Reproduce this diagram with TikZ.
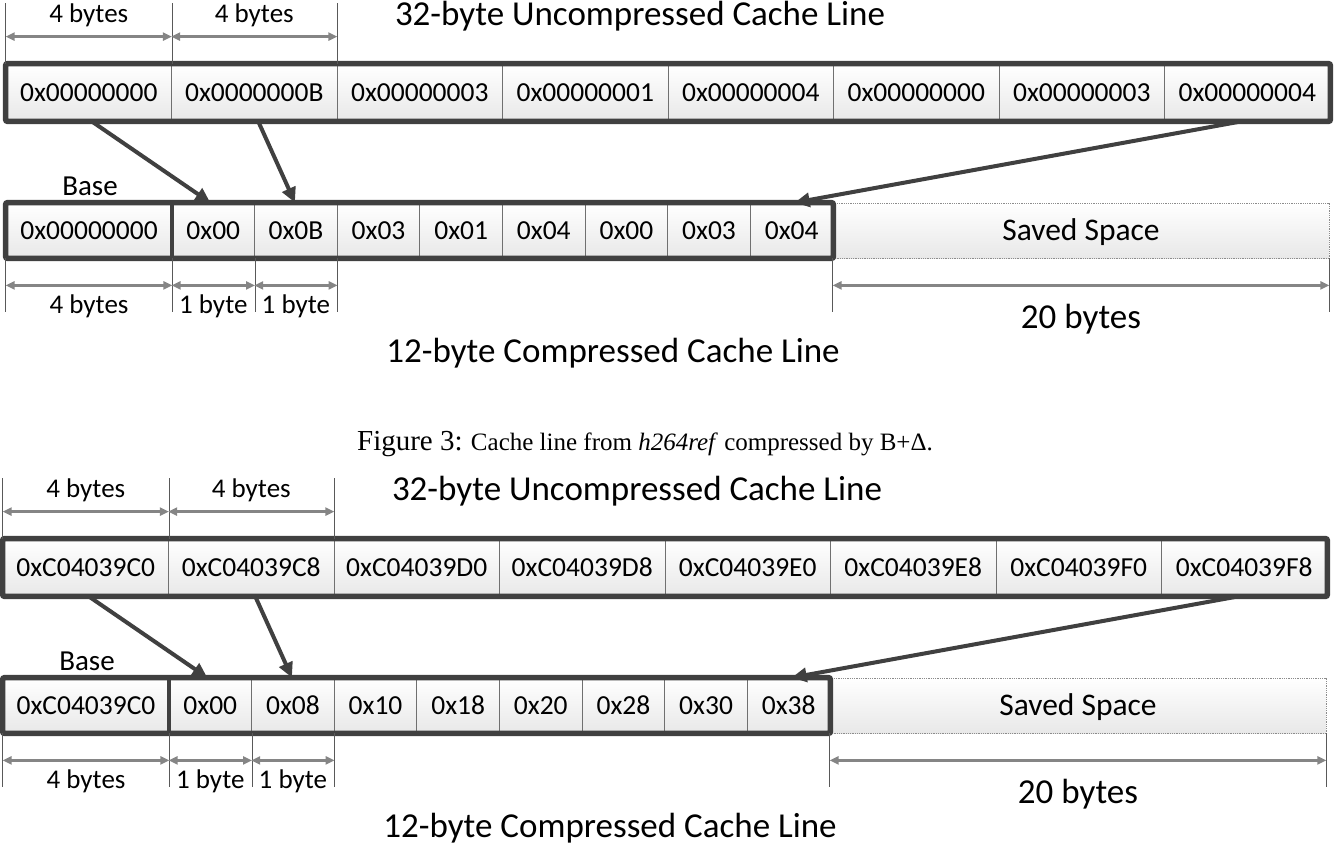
\documentclass[tikz,border=0pt]{standalone}
\usepackage{fontspec}
\setmainfont{Carlito}
\newfontfamily\capfont{Liberation Serif}
\usetikzlibrary{arrows.meta}
\definecolor{dark}{HTML}{404040}
\definecolor{dimgray}{HTML}{858585}
\definecolor{cellline}{HTML}{707070}
\tikzset{
 cell/.style={draw=cellline, line width=0.8pt, top color=white, bottom color=black!9,
   minimum height=55pt, inner sep=0pt, anchor=center, text height=17.4pt, text depth=0pt,
   font=\fontsize{27.5}{30}\selectfont, text=black},
 wcell/.style={cell, minimum width=165.5pt, minimum height=57pt},
 bcell/.style={cell, minimum width=166pt},
 ncell/.style={cell, minimum width=82.625pt},
 savedbox/.style={cell, draw=black!45, densely dotted, minimum width=496pt,
   text height=20.5pt, font=\fontsize{31.5}{34}\selectfont},
 frame/.style={draw=dark, line width=5.5pt, rounded corners=2pt},
 divider/.style={draw=dark, line width=4pt},
 dimline/.style={draw=dimgray, line width=2.5pt, {Triangle[length=9pt,width=8pt]}-{Triangle[length=9pt,width=8pt]}},
 ext/.style={draw=black!65, line width=0.7pt},
 ptr/.style={draw=dark, line width=4pt, -{Triangle[length=15pt,width=14pt]}},
 lbl/.style={font=\fontsize{27}{30}\selectfont, inner sep=0pt},
 baselbl/.style={font=\fontsize{29}{32}\selectfont, inner sep=0pt},
 title/.style={font=\fontsize{35}{38}\selectfont, inner sep=0pt},
 caption/.style={font=\capfont\fontsize{25}{28}\selectfont, inner sep=0pt},
}
% #1 shift, #2 prefix, #3 words, #4 base, #5 deltas
\newcommand\cachefig[5]{%
 \begin{scope}[shift={#1}, name prefix=#2-]
  \node[title] (t1) at (640,16) {32-byte Uncompressed Cache Line};
  \foreach \v [count=\i] in {#3} {
    \node[wcell] (u\i) at ({6+165.5*(\i-0.5)},92.5) {\v};
  }
  \draw[frame] (u1.north west) rectangle (u8.south east);
  % top dimensions
  \foreach \a in {u1.north west,u1.north east,u2.north east}
    \draw[ext] (\a) -- ++(0,-61);
  \draw[dimline] ([yshift=27pt]u1.north west) -- ([yshift=27pt]u1.north east);
  \draw[dimline] ([yshift=27pt]u2.north west) -- ([yshift=27pt]u2.north east);
  \node[lbl] (l1) at ([yshift=48pt]u1.north) {4 bytes};
  \node[lbl] (l2) at ([yshift=48pt]u2.north) {4 bytes};
  % compressed line
  \node[bcell] (b0) at (89,230.5) {#4};
  \foreach \v [count=\i] in {#5} {
    \node[ncell] (d\i) at ({172+82.625*(\i-0.5)},230.5) {\v};
  }
  \node[savedbox] (sv) at (1081,230.5) {Saved Space};
  \draw[frame] (b0.north west) rectangle (d8.south east);
  \draw[divider] (b0.north east) -- (b0.south east);
  \node[baselbl] (bl) at (90,186) {Base};
  % bottom dimensions
  \foreach \a in {b0.south west,b0.south east,d1.south east,d2.south east,sv.south west,sv.south east}
    \draw[ext] (\a) -- ++(0,54);
  \draw[dimline] ([yshift=-27pt]b0.south west) -- ([yshift=-27pt]b0.south east);
  \draw[dimline] ([yshift=-27pt]d1.south west) -- ([yshift=-27pt]d1.south east);
  \draw[dimline] ([yshift=-27pt]d2.south west) -- ([yshift=-27pt]d2.south east);
  \draw[dimline] ([yshift=-27pt]sv.south west) -- ([yshift=-27pt]sv.south east);
  \node[lbl] (l3) at ([yshift=-48pt]b0.south) {4 bytes};
  \node[lbl] (l4) at ([yshift=-48pt]d1.south) {1 byte};
  \node[lbl] (l5) at ([yshift=-48pt]d2.south) {1 byte};
  \node[title] (l6) at ([yshift=-61pt]sv.south) {20 bytes};
  \node[title] (t2) at (613,353) {12-byte Compressed Cache Line};
  % pointers
  \draw[ptr] ([xshift=3pt]u1.south) -- ([xshift=-3pt]d1.north);
  \draw[ptr] ([xshift=4pt]u2.south) -- ([xshift=-1pt]d2.north);
  \draw[ptr] ([xshift=-6pt]u8.south) -- ([xshift=3pt]d8.north);
 \end{scope}}
\begin{document}
\begin{tikzpicture}[x=1pt,y=-1pt]
\useasboundingbox (0,0) rectangle (1334,844);
\cachefig{(0,0)}{A}{0x00000000,0x0000000B,0x00000003,0x00000001,0x00000004,0x00000000,0x00000003,0x00000004}{0x00000000}{0x00,0x0B,0x03,0x01,0x04,0x00,0x03,0x04}
\node[caption] (cap) at (645,444) {{\fontsize{29}{32}\selectfont Figure 3:} Cache line from \textit{h264ref} compressed by B+Δ.};
\cachefig{(-3,475)}{B}{0xC04039C0,0xC04039C8,0xC04039D0,0xC04039D8,0xC04039E0,0xC04039E8,0xC04039F0,0xC04039F8}{0xC04039C0}{0x00,0x08,0x10,0x18,0x20,0x28,0x30,0x38}
\end{tikzpicture}
\end{document}
